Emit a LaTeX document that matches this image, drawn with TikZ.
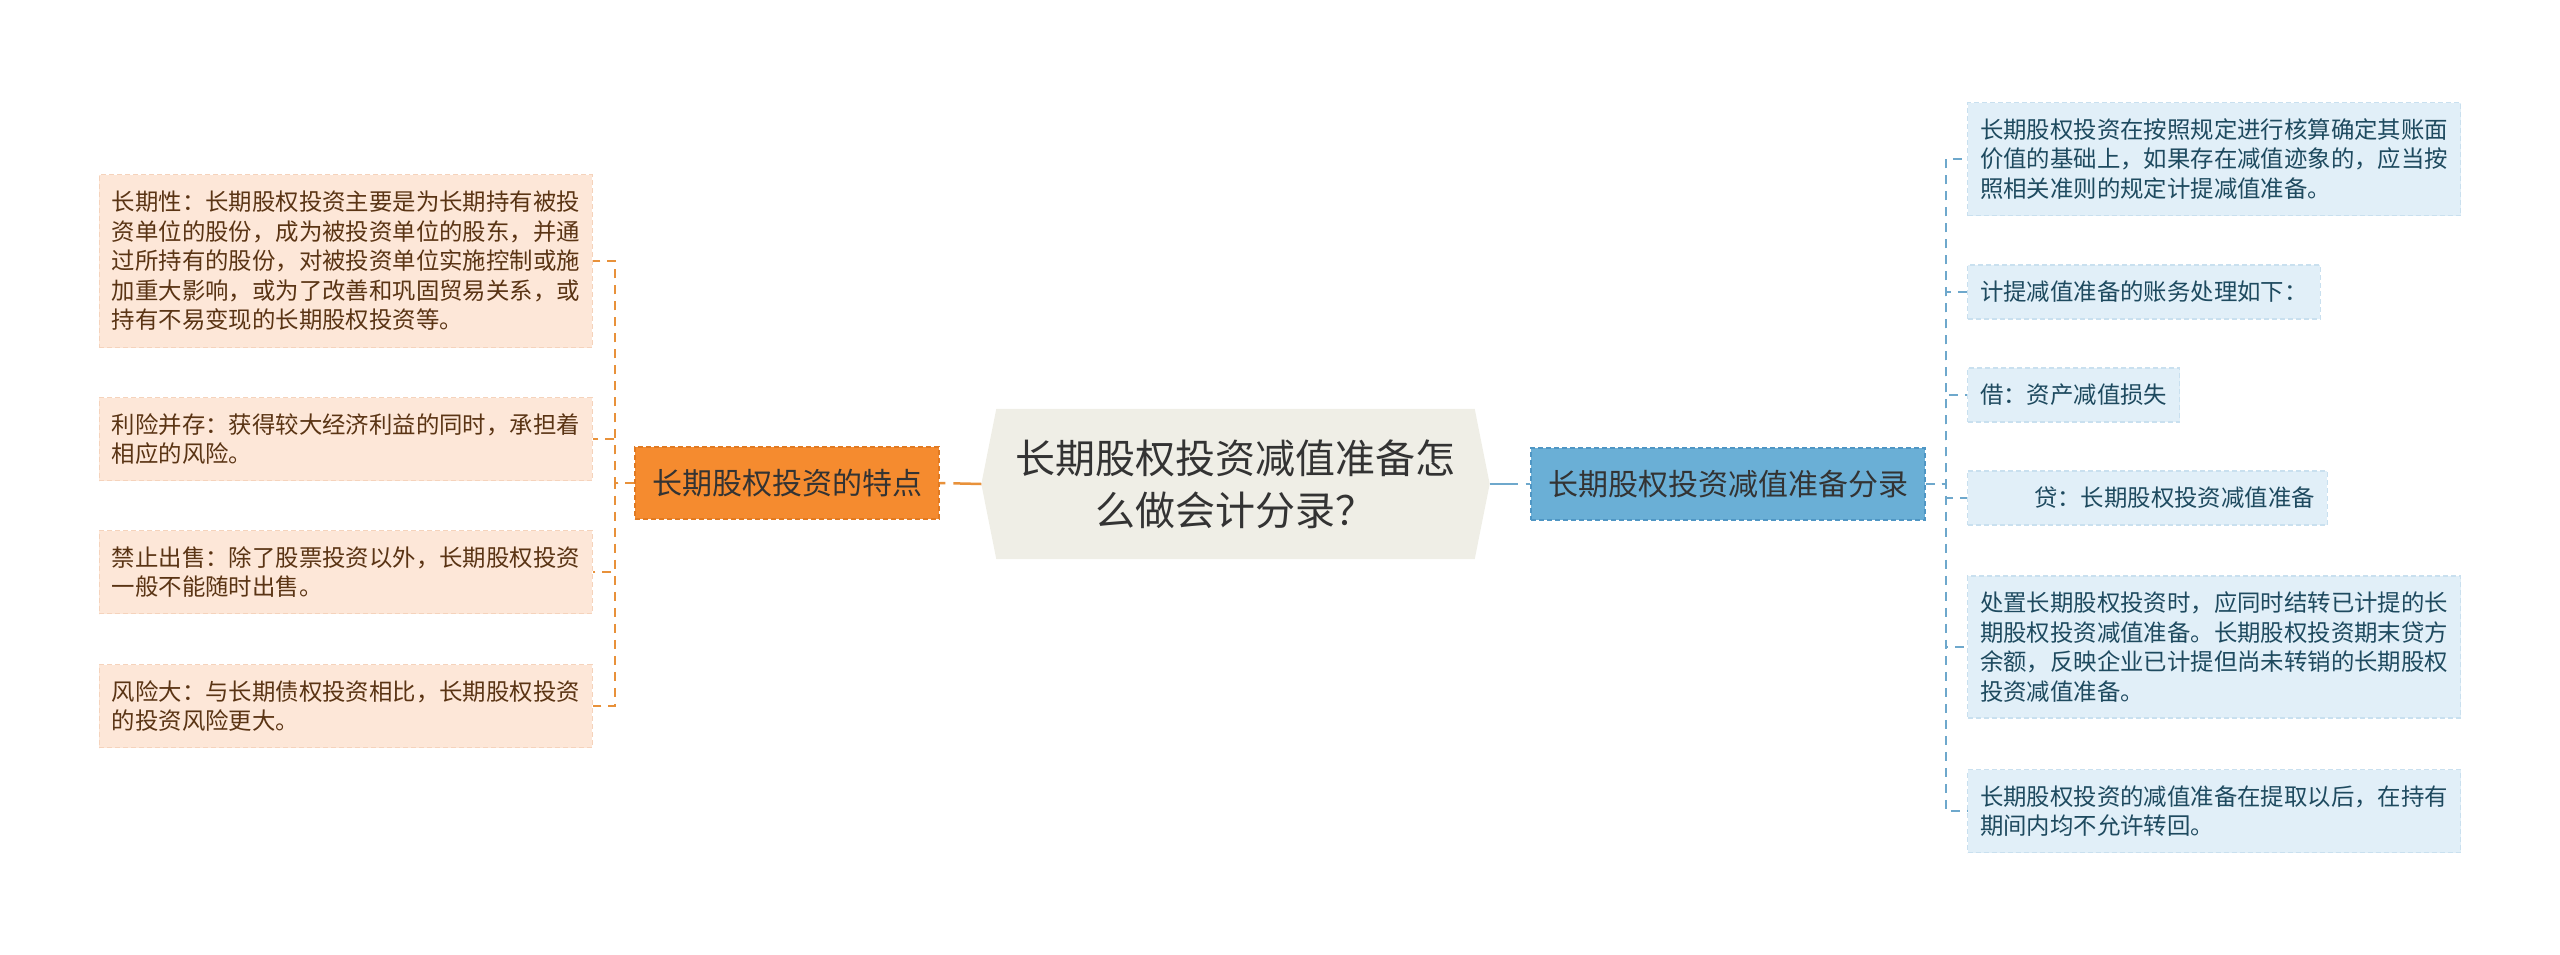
\documentclass[tikz,border=0pt]{standalone}
\usepackage{fontspec}
\setmainfont{Noto Sans CJK SC}
\definecolor{cfill}{HTML}{EFEEE6}
\definecolor{ctext}{HTML}{333333}
\definecolor{ofill}{HTML}{F58B2F}
\definecolor{oborder}{HTML}{E07A22}
\definecolor{bfill}{HTML}{6AAFD6}
\definecolor{bborder}{HTML}{4F96C4}
\definecolor{olfill}{HTML}{FDE7D8}
\definecolor{olborder}{HTML}{F5D3BC}
\definecolor{oltext}{HTML}{5A3414}
\definecolor{blfill}{HTML}{E1EFF8}
\definecolor{blborder}{HTML}{C9E0EF}
\definecolor{bltext}{HTML}{1E4A5F}
\definecolor{oline}{HTML}{E8913A}
\definecolor{bline}{HTML}{6EA8CC}
\pgfdeclarelayer{bg}
\pgfsetlayers{bg,main}
\begin{document}
\begin{tikzpicture}[x=1pt,y=-1pt,
  central/.style={minimum width=508pt,minimum height=150pt,inner sep=0pt,align=center,
    text=ctext,font=\fontsize{40pt}{52pt}\selectfont},
  mainbox/.style={minimum height=72pt,inner xsep=17pt,inner ysep=0pt,line width=1.5pt,
    dash pattern=on 5pt off 3pt,text=ctext,font=\fontsize{30pt}{36pt}\selectfont},
  omain/.style={mainbox,fill=ofill,draw=oborder},
  bmain/.style={mainbox,fill=bfill,draw=bborder},
  leaf/.style={inner xsep=12.5pt,inner ysep=0pt,align=left,line width=1.2pt,
    dash pattern=on 5pt off 3pt,font=\fontsize{23.4pt}{29.5pt}\selectfont},
  oleaf/.style={leaf,fill=olfill,draw=olborder,text=oltext,anchor=east},
  bleaf/.style={leaf,fill=blfill,draw=blborder,text=bltext,anchor=west},
  h1/.style={minimum height=54pt},
  h2/.style={minimum height=83pt},
  h3/.style={minimum height=113pt},
  h4/.style={minimum height=142pt},
  h5/.style={minimum height=173pt},
  oconn/.style={draw=oline,line width=2pt,dash pattern=on 9pt off 7pt},
  bconn/.style={draw=bline,line width=2pt,dash pattern=on 9pt off 7pt},
  ocenter/.style={draw=oline,line width=2.5pt,dash pattern=on 28pt off 8pt},
  bcenter/.style={draw=bline,line width=2.5pt,dash pattern=on 28pt off 8pt}
]
\useasboundingbox (0,0) rectangle (2560,954);

% central node
\node[central] (c) at (1235.5,484) {长期股权投资减值准备怎\\么做会计分录？};
\begin{pgfonlayer}{bg}
\fill[cfill] ([xshift=15pt]c.north west) -- ([xshift=-15pt]c.north east) -- (c.east)
  -- ([xshift=-15pt]c.south east) -- ([xshift=15pt]c.south west) -- (c.west) -- cycle;
\end{pgfonlayer}

% main nodes
\node[omain] (L) at (787,483) {长期股权投资的特点};
\node[bmain] (R) at (1728,484) {长期股权投资减值准备分录};

\draw[ocenter] (c.west) -- (L.east);
\draw[bcenter] (c.east) -- (R.west);

% left leaves
\node[oleaf,h5] (l1) at (593,261) {长期性：长期股权投资主要是为长期持有被投\\资单位的股份，成为被投资单位的股东，并通\\过所持有的股份，对被投资单位实施控制或施\\加重大影响，或为了改善和巩固贸易关系，或\\持有不易变现的长期股权投资等。};
\node[oleaf,h2] (l2) at (593,439) {利险并存：获得较大经济利益的同时，承担着\\相应的风险。};
\node[oleaf,h2] (l3) at (593,572) {禁止出售：除了股票投资以外，长期股权投资\\一般不能随时出售。};
\node[oleaf,h2] (l4) at (593,706) {风险大：与长期债权投资相比，长期股权投资\\的投资风险更大。};

\coordinate (lb) at (615,483);
\foreach \n in {l1,l2,l3,l4} \draw[oconn] (L.west) -- (lb) |- (\n.east);

% right leaves
\node[bleaf,h3] (r1) at (1967,159) {长期股权投资在按照规定进行核算确定其账面\\价值的基础上，如果存在减值迹象的，应当按\\照相关准则的规定计提减值准备。};
\node[bleaf,h1] (r2) at (1967,292) {计提减值准备的账务处理如下：};
\node[bleaf,h1] (r3) at (1967,395) {借：资产减值损失};
\node[bleaf,h1] (r4) at (1967,498) {\hspace*{54pt}贷：长期股权投资减值准备};
\node[bleaf,h4] (r5) at (1967,647) {处置长期股权投资时，应同时结转已计提的长\\期股权投资减值准备。长期股权投资期末贷方\\余额，反映企业已计提但尚未转销的长期股权\\投资减值准备。};
\node[bleaf,h2] (r6) at (1967,811) {长期股权投资的减值准备在提取以后，在持有\\期间内均不允许转回。};

\coordinate (rb) at (1946,484);
\foreach \n in {r1,r2,r3,r4,r5,r6} \draw[bconn] (R.east) -- (rb) |- (\n.west);
\end{tikzpicture}
\end{document}
